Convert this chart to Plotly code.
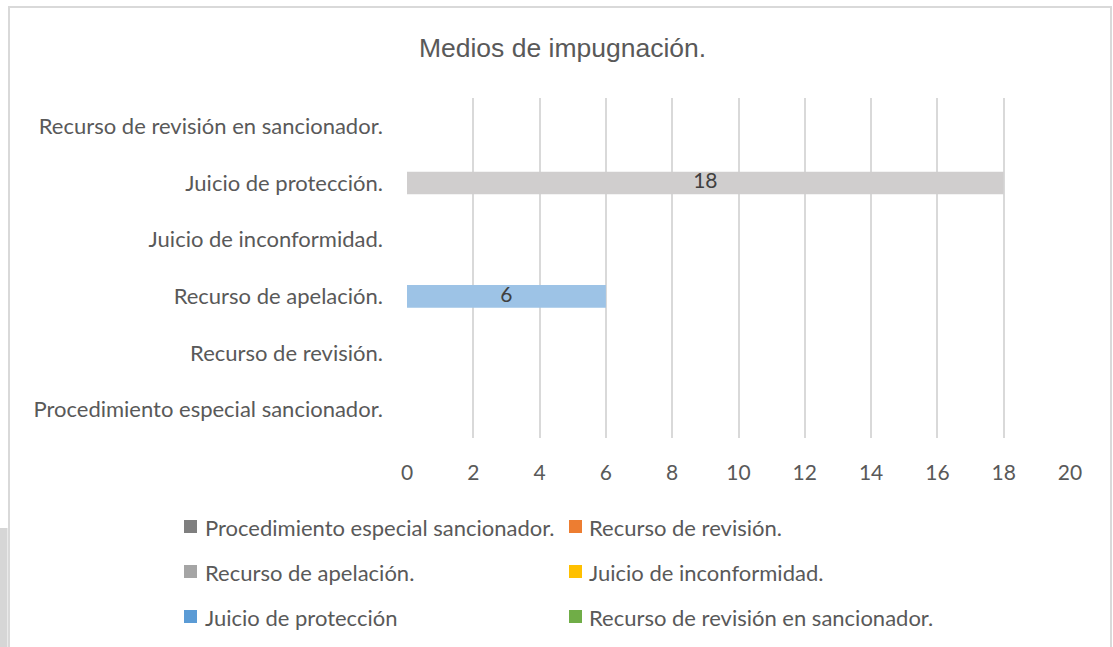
import plotly.graph_objects as go

# ---- data ----
categories = [
    "Procedimiento especial sancionador.",
    "Recurso de revisión.",
    "Recurso de apelación.",
    "Juicio de inconformidad.",
    "Juicio de protección.",
    "Recurso de revisión en sancionador.",
]
values = [0, 0, 6, 0, 18, 0]
bar_colors = ["#7F7F7F", "#ED7D31", "#9DC3E6", "#FFC000", "#D0CECE", "#70AD47"]

legend_names = [
    "Procedimiento especial sancionador.",
    "Recurso de revisión.",
    "Recurso de apelación.",
    "Juicio de inconformidad.",
    "Juicio de protección",
    "Recurso de revisión en sancionador.",
]
legend_colors = ["#7F7F7F", "#ED7D31", "#A5A5A5", "#FFC000", "#5B9BD5", "#70AD47"]

x_ticks = [0, 2, 4, 6, 8, 10, 12, 14, 16, 18, 20]
title_text = "Medios de impugnación."

FONT = "Lato, 'Open Sans', sans-serif"
TXT = "#595959"

# plot-area geometry (pixels) used to place decorations in paper units
L, R, T, B = 407, 1070, 98, 438
def px_x(p):
    return (p - L) / (R - L)
def px_y(p):
    return (B - p) / (B - T)

fig = go.Figure()
fig.add_trace(go.Bar(
    y=categories, x=values, orientation="h",
    marker=dict(color=bar_colors, line=dict(width=0)),
    width=0.4,
    showlegend=False, hoverinfo="x+y",
))
# data labels centred in each non-zero bar
lab_x = [v / 2 for v in values if v]
lab_y = [c for c, v in zip(categories, values) if v]
lab_t = [str(v) for v in values if v]
fig.add_trace(go.Scatter(
    x=lab_x, y=lab_y, text=lab_t, mode="text",
    textposition="middle center",
    textfont=dict(size=21, color="#404040", family=FONT),
    showlegend=False, hoverinfo="skip",
))

# manual legend (two columns, three rows)
sq_left = [184, 569]
txt_left = [203, 587]
row_center = [526.5, 571.5, 616.5]
SQ = 13
annotations = []
shapes = []
for i, (name, col) in enumerate(zip(legend_names, legend_colors)):
    r, c = divmod(i, 2)
    shapes.append(dict(
        type="rect", xref="paper", yref="paper",
        x0=px_x(sq_left[c]), x1=px_x(sq_left[c] + SQ),
        y0=px_y(row_center[r] + SQ / 2), y1=px_y(row_center[r] - SQ / 2),
        line=dict(width=0), fillcolor=col,
    ))
    annotations.append(dict(
        x=px_x(txt_left[c]), y=px_y(row_center[r] + 1), xref="paper", yref="paper",
        xanchor="left", yanchor="middle", showarrow=False, text=name,
        font=dict(size=22, color=TXT, family=FONT),
    ))

shapes += [
    # chart border
    dict(type="rect", xref="paper", yref="paper",
         x0=px_x(9), x1=px_x(1111), y0=px_y(660), y1=px_y(7),
         line=dict(color="#D9D9D9", width=2), fillcolor="rgba(0,0,0,0)", layer="below"),
    # grey strip at lower left
    dict(type="rect", xref="paper", yref="paper",
         x0=px_x(-5), x1=px_x(7.5), y0=px_y(660), y1=px_y(528),
         line=dict(width=0), fillcolor="#D6D6D6", layer="below"),
]

fig.update_layout(
    width=1113, height=647,
    margin=dict(l=L, r=1113 - R, t=T, b=647 - B),
    paper_bgcolor="white", plot_bgcolor="white",
    title=dict(text=title_text, x=0.5054, xref="container", xanchor="center",
               y=1 - 48 / 647, yref="container", yanchor="middle",
               font=dict(size=26.5, color=TXT,
                         family="'Liberation Sans', Arial, sans-serif")),
    font=dict(family=FONT, color=TXT, size=22),
    xaxis=dict(range=[0, 20], tickvals=x_ticks, showgrid=True, gridcolor="#D9D9D9",
               gridwidth=2, zeroline=False, showline=False, ticks="",
               ticklabelstandoff=20, tickfont=dict(size=21, color=TXT, family=FONT)),
    yaxis=dict(showgrid=False, zeroline=False, showline=False, ticks="",
               ticklabelstandoff=23, tickfont=dict(size=22, color=TXT, family=FONT),
               categoryorder="array", categoryarray=categories),
    annotations=annotations,
    shapes=shapes,
)

fig.write_html("out.html", config={"displayModeBar": False},
               post_script="document.body.style.margin='0';")
